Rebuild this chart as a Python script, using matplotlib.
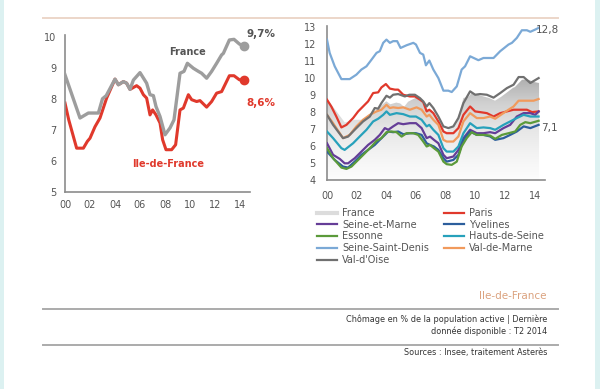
import numpy as np
import matplotlib
matplotlib.use('Agg')
import matplotlib.pyplot as plt
from matplotlib.colors import LinearSegmentedColormap
from matplotlib.lines import Line2D
from matplotlib.patches import Rectangle

# --- donnees (annees depuis 2000, taux de chomage en %) ---
fr_x = [0, 1.2, 1.87, 2.67, 3.0, 3.3, 4.0, 4.27, 4.67, 4.93, 5.2, 5.47, 6.0, 6.53, 6.8, 7.07, 7.28, 7.6,
        8.0, 8.4, 8.72, 9.2, 9.52, 9.79, 10.27, 10.67, 10.93, 11.33, 11.73, 12.13, 12.53, 12.67, 13.15,
        13.52, 13.95, 14.3]
fr_y = [8.77, 7.38, 7.54, 7.54, 8.0, 8.1, 8.63, 8.45, 8.55, 8.5, 8.3, 8.6, 8.84, 8.5, 8.13, 8.1, 7.75, 7.43,
        6.84, 7.06, 7.32, 8.82, 8.88, 9.14, 8.98, 8.88, 8.82, 8.66, 8.88, 9.14, 9.41, 9.46, 9.89,
        9.91, 9.76, 9.7]

idf_x = [0, 0.3, 0.93, 1.47, 1.79, 2.0, 2.4, 2.8, 3.33, 4.0, 4.27, 4.67, 4.93, 5.2, 5.73, 6.0, 6.27, 6.53,
         6.8, 7.01, 7.28, 7.6, 7.81, 8.08, 8.53, 8.85, 9.2, 9.47, 9.87, 10.13, 10.53, 10.8, 11.33, 11.73,
         12.13, 12.53, 13.15, 13.52, 13.95, 14.3]
idf_y = [7.86, 7.32, 6.41, 6.41, 6.63, 6.73, 7.1, 7.38, 8.02, 8.63, 8.45, 8.55, 8.5, 8.3, 8.42, 8.34, 8.13, 8.02,
         7.48, 7.64, 7.48, 7.22, 6.68, 6.36, 6.36, 6.52, 7.64, 7.7, 8.13, 7.97, 7.91, 7.94, 7.73, 7.91,
         8.18, 8.23, 8.74, 8.74, 8.61, 8.6]

ssd_x = [0, 0.18, 0.52, 0.97, 1.53, 1.98, 2.32, 2.66, 3.0, 3.34, 3.56, 3.79, 4.01, 4.24, 4.46, 4.73, 4.96,
         5.37, 5.82, 6.0, 6.27, 6.49, 6.67, 6.9, 7.17, 7.51, 7.85, 8.18, 8.41, 8.75, 9.08, 9.31, 9.65,
         10.21, 10.55, 11.0, 11.23, 11.68, 12.24, 12.47, 12.8, 13.14, 13.48, 13.71, 14.04, 14.27]
ssd_y = [12.25, 11.47, 10.68, 9.93, 9.93, 10.19, 10.49, 10.68, 11.07, 11.47, 11.57, 12.06, 12.25, 12.06, 12.16,
         12.16, 11.76, 11.92, 12.06, 11.96, 11.47, 11.37, 10.74, 11.02, 10.49, 9.99, 9.25, 9.25, 9.17, 9.5,
         10.49, 10.68, 11.27, 11.04, 11.17, 11.17, 11.17, 11.57, 11.96, 12.06, 12.35, 12.8, 12.8, 12.71,
         12.84, 12.94]

vdo_x = [0, 0.41, 1.08, 1.42, 1.98, 2.43, 2.89, 3.22, 3.45, 3.67, 4.01, 4.24, 4.46, 4.8, 5.25, 5.55, 5.93,
         6.27, 6.49, 6.72, 6.9, 7.17, 7.51, 7.85, 8.18, 8.52, 8.86, 9.2, 9.65, 9.99, 10.32, 10.78, 11.23,
         11.68, 12.13, 12.58, 12.92, 13.26, 13.71, 14.27]
vdo_y = [7.83, 7.24, 6.46, 6.55, 7.05, 7.44, 7.73, 8.23, 8.19, 8.52, 8.95, 8.84, 9.01, 9.05, 8.91, 9.01, 9.01,
         8.81, 8.62, 8.32, 8.52, 8.23, 7.73, 7.15, 7.05, 7.15, 7.64, 8.52, 9.21, 9.01, 9.05, 9.01, 8.84,
         9.11, 9.4, 9.6, 10.05, 10.05, 9.7, 9.99]

par_x = [0, 0.29, 0.63, 0.97, 1.31, 1.76, 2.1, 2.43, 2.77, 3.11, 3.45, 3.67, 3.97, 4.24, 4.58, 4.8, 5.14,
         5.59, 5.93, 6.27, 6.49, 6.72, 6.9, 7.17, 7.51, 7.85, 8.07, 8.52, 8.86, 9.2, 9.65, 9.99, 10.32,
         10.78, 11.23, 11.68, 12.13, 12.58, 13.03, 13.48, 13.82, 14.27]
par_y = [8.72, 8.32, 7.73, 7.09, 7.24, 7.64, 8.03, 8.32, 8.62, 9.11, 9.15, 9.44, 9.64, 9.37, 9.31, 9.31, 9.01,
         8.91, 8.91, 8.72, 8.58, 8.03, 8.13, 7.93, 7.44, 6.85, 6.75, 6.75, 7.05, 7.83, 8.32, 8.03, 7.99,
         7.93, 7.73, 7.93, 8.03, 8.13, 8.13, 8.13, 7.99, 8.03]

vdm_x = [0, 0.41, 1.08, 1.53, 1.98, 2.43, 2.89, 3.34, 3.67, 4.01, 4.24, 4.46, 4.8, 5.14, 5.59, 6.04, 6.38,
         6.72, 6.9, 7.17, 7.51, 7.85, 8.07, 8.52, 8.86, 9.2, 9.65, 10.1, 10.55, 11.0, 11.34, 11.79, 12.24,
         12.58, 12.92, 13.48, 13.93, 14.27]
vdm_y = [7.83, 7.34, 6.46, 6.65, 7.15, 7.54, 7.83, 8.03, 8.13, 8.42, 8.23, 8.27, 8.23, 8.27, 8.13, 8.27, 8.13,
         7.73, 7.83, 7.54, 7.24, 6.36, 6.26, 6.26, 6.56, 7.44, 7.93, 7.64, 7.64, 7.73, 7.6, 7.87, 8.13,
         8.32, 8.66, 8.66, 8.66, 8.76]

hds_x = [0, 0.41, 0.97, 1.19, 1.76, 2.21, 2.66, 3.11, 3.45, 3.79, 4.01, 4.24, 4.69, 5.14, 5.59, 6.0, 6.38,
         6.72, 6.9, 7.17, 7.51, 7.85, 8.07, 8.52, 8.86, 9.2, 9.65, 10.1, 10.55, 11.0, 11.34, 11.9, 12.35,
         12.8, 13.26, 13.71, 14.27]
hds_y = [6.85, 6.46, 5.87, 5.77, 6.16, 6.56, 6.95, 7.44, 7.6, 7.83, 8.03, 7.83, 7.93, 7.87, 7.73, 7.73, 7.54,
         7.15, 7.24, 6.95, 6.65, 5.87, 5.67, 5.67, 5.97, 6.75, 7.34, 7.05, 7.09, 7.05, 6.95, 7.24, 7.44,
         7.64, 7.83, 7.73, 7.73]

sem_x = [0, 0.41, 0.86, 1.19, 1.42, 1.87, 2.32, 2.77, 3.22, 3.56, 3.9, 4.13, 4.46, 4.8, 5.14, 5.59, 6.0,
         6.38, 6.72, 6.95, 7.21, 7.51, 7.85, 8.07, 8.52, 8.86, 9.2, 9.65, 10.1, 10.55, 11.0, 11.34, 11.9,
         12.35, 12.8, 13.26, 13.71, 14.04, 14.27]
sem_y = [6.16, 5.48, 5.24, 4.98, 4.98, 5.28, 5.67, 6.06, 6.36, 6.65, 7.05, 6.95, 7.15, 7.34, 7.28, 7.34, 7.34,
         7.05, 6.46, 6.55, 6.36, 6.16, 5.48, 5.28, 5.38, 5.77, 6.46, 6.95, 6.75, 6.75, 6.81, 6.75, 7.05,
         7.24, 7.73, 7.93, 7.93, 7.83, 8.03]

yve_x = [0, 0.52, 1.08, 1.42, 1.87, 2.32, 2.77, 3.22, 3.56, 3.9, 4.13, 4.46, 4.8, 5.14, 5.59, 6.0, 6.38,
         6.72, 6.95, 7.21, 7.51, 7.85, 8.07, 8.52, 8.86, 9.2, 9.65, 10.1, 10.55, 11.0, 11.34, 11.9, 12.35,
         12.8, 13.26, 13.71, 14.27]
yve_y = [5.67, 5.18, 4.79, 4.73, 5.08, 5.48, 5.77, 6.06, 6.36, 6.65, 6.85, 6.81, 6.85, 6.69, 6.75, 6.75, 6.65,
         6.16, 6.06, 5.97, 5.77, 5.28, 5.08, 5.18, 5.48, 6.36, 6.85, 6.65, 6.65, 6.56, 6.36, 6.46, 6.65,
         6.85, 7.15, 7.05, 7.24]

ess_x = [0, 0.41, 0.97, 1.31, 1.65, 2.1, 2.55, 3.0, 3.34, 3.67, 4.01, 4.35, 4.69, 5.03, 5.37, 5.82, 6.15,
         6.49, 6.72, 6.95, 7.21, 7.51, 7.85, 8.07, 8.41, 8.75, 9.08, 9.42, 9.76, 10.1, 10.55, 11.0, 11.34,
         11.79, 12.24, 12.69, 13.03, 13.37, 13.71, 14.27]
ess_y = [5.87, 5.28, 4.73, 4.65, 4.79, 5.18, 5.57, 5.97, 6.3, 6.46, 6.81, 6.85, 6.81, 6.55, 6.75, 6.75, 6.65,
         6.26, 5.97, 6.06, 5.87, 5.67, 5.08, 4.93, 4.89, 5.08, 5.97, 6.46, 6.81, 6.65, 6.65, 6.61, 6.42,
         6.65, 6.75, 6.85, 7.24, 7.4, 7.34, 7.48]

xticks = [0, 2, 4, 6, 8, 10, 12, 14]
xlabels = ['00', '02', '04', '06', '08', '10', '12', '14']

fig = plt.figure(figsize=(6, 3.89), dpi=100)
fig.patch.set_facecolor('white')

tick_col = '#555555'
spine_col = '#8c8c8c'


def style(ax):
    for s in ['top', 'right']:
        ax.spines[s].set_visible(False)
    for s in ['left', 'bottom']:
        ax.spines[s].set_color(spine_col)
        ax.spines[s].set_linewidth(1.2)
    ax.tick_params(length=0, labelsize=7, colors=tick_col, pad=6)
    ax.set_xticks(xticks)
    ax.set_xticklabels(xlabels)
    ax.set_facecolor('none')


# --- graphique de gauche ---
ax1 = fig.add_axes([65 / 600, 1 - 192 / 389, 185 / 600, 157 / 389])
style(ax1)
red = '#e0392c'
grey = '#9d9d9d'
ax1.plot(idf_x, idf_y, color=red, lw=2.2, zorder=2, solid_joinstyle='round')
ax1.plot(fr_x, fr_y, color=grey, lw=2.4, zorder=3, solid_joinstyle='round')
ax1.plot(fr_x[-1], fr_y[-1], 'o', color=grey, ms=6, zorder=4)
ax1.plot(idf_x[-1], idf_y[-1], 'o', color=red, ms=6, zorder=4)
ax1.set_xlim(0, 14.8)
ax1.set_ylim(5, 10.05)
ax1.set_yticks([5, 6, 7, 8, 9, 10])
ax1.text(9.76, 9.5, 'France', color='#555555', fontsize=7, fontweight='bold', ha='center', va='center')
ax1.text(8.24, 5.9, 'Ile-de-France', color=red, fontsize=7, fontweight='bold', ha='center', va='center')
ax1.text(14.55, 10.09, '9,7%', color='#555555', fontsize=7.5, fontweight='bold', ha='left', va='center',
         clip_on=False)
ax1.text(14.55, 7.85, '8,6%', color=red, fontsize=7.5, fontweight='bold', ha='left', va='center',
         clip_on=False)

# --- graphique de droite ---
ax2 = fig.add_axes([327 / 600, 1 - 180 / 389, 218 / 600, 154 / 389])
style(ax2)
ax2.tick_params(pad=8)
ax2.set_yticks(range(4, 14))

grad = np.linspace(0, 1, 256).reshape(-1, 1)
cmap = LinearSegmentedColormap.from_list('g', ['#fdfdfd', '#f3f3f3', '#e6e6e6', '#d0d0d0', '#adadad'])
im = ax2.imshow(grad, extent=[0, fr_x[-1], 4, 10], origin='lower', aspect='auto', cmap=cmap, zorder=1)
poly = ax2.fill_between(fr_x, 4, fr_y, facecolor='none', edgecolor='none')
im.set_clip_path(poly.get_paths()[0], transform=ax2.transData)

series = [
    ('Paris', par_x, par_y, '#e0392c'),
    ('Seine-et-Marne', sem_x, sem_y, '#653d97'),
    ('Yvelines', yve_x, yve_y, '#2c5e9c'),
    ('Essonne', ess_x, ess_y, '#5b9a3a'),
    ('Hauts-de-Seine', hds_x, hds_y, '#27a1bb'),
    ('Seine-Saint-Denis', ssd_x, ssd_y, '#7ba9d6'),
    ('Val-de-Marne', vdm_x, vdm_y, '#f19a5c'),
    ("Val-d'Oise", vdo_x, vdo_y, '#707070'),
]
handles = {}
for name, xs, ys, col in series:
    ln, = ax2.plot(xs, ys, color=col, lw=1.6, zorder=3, solid_joinstyle='round')
    handles[name] = ln
handles['France'] = Line2D([], [], color='#dcdcdc', lw=3)

ax2.set_xlim(0, 14.7)
ax2.set_ylim(4, 13.05)
ax2.text(14.05, 12.8, '12,8', color='#555555', fontsize=7.5, ha='left', va='center', clip_on=False)
ax2.text(14.45, 7.07, '7,1', color='#555555', fontsize=7.5, ha='left', va='center', clip_on=False)

order = ['France', 'Seine-et-Marne', 'Essonne', 'Seine-Saint-Denis', "Val-d'Oise",
         'Paris', 'Yvelines', 'Hauts-de-Seine', 'Val-de-Marne']
leg = fig.legend([handles[k] for k in order], order, ncol=2, loc='upper left',
                 bbox_to_anchor=(317 / 600, 1 - 208 / 389), frameon=False, fontsize=7,
                 handlelength=2.1, handletextpad=0.5, columnspacing=1.5, labelspacing=0.18,
                 borderpad=0, borderaxespad=0)
for t in leg.get_texts():
    t.set_color('#555555')

# --- habillage ---
fig.add_artist(Rectangle((0, 0), 4 / 600, 1, transform=fig.transFigure, color='#dcf1f1', lw=0))
fig.add_artist(Rectangle((595 / 600, 0), 5 / 600, 1, transform=fig.transFigure, color='#dcf1f1', lw=0))
fig.add_artist(Line2D([43 / 600, 558 / 600], [1 - 18 / 389] * 2, color='#ecd6c9', lw=1.4))
fig.add_artist(Line2D([43 / 600, 558 / 600], [1 - 309 / 389] * 2, color='#ababab', lw=1.4))
fig.add_artist(Line2D([43 / 600, 558 / 600], [1 - 345 / 389] * 2, color='#ababab', lw=1.4))

fig.text(547 / 600, 1 - 296 / 389, 'Ile-de-France', color='#dba27e', fontsize=7.5, ha='right', va='center')
narrow = dict(family='DejaVu Sans', fontstretch='condensed', color='#333333', fontsize=6.5,
              ha='right', va='center')
fig.text(547 / 600, 1 - 319 / 389, 'Chômage en % de la population active | Dernière', **narrow)
fig.text(547 / 600, 1 - 331 / 389, 'donnée disponible : T2 2014', **narrow)
fig.text(547 / 600, 1 - 353 / 389, 'Sources : Insee, traitement Asterès', **narrow)

fig.savefig('out.png', dpi=100)
